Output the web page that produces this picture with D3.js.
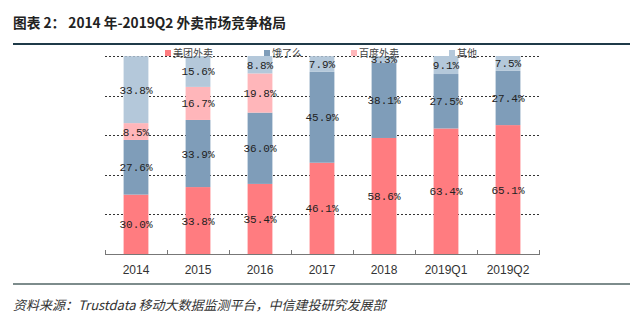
<!DOCTYPE html>
<html>
<head>
<meta charset="utf-8">
<script src="https://cdn.jsdelivr.net/npm/d3@7/dist/d3.min.js"></script>
<style>
  body { margin: 0; background: #fff; }
  svg { display: block; }
</style>
</head>
<body>
<div id="chart"></div>
<script>
// categories and shares (%), bottom to top of each stack
const periods = ['2014', '2015', '2016', '2017', '2018', '2019Q1', '2019Q2'];
const seriesNames = ['美团外卖', '饿了么', '百度外卖', '其他'];
const meituan = [30.0, 33.8, 35.4, 46.1, 58.6, 63.4, 65.1];
const eleme = [27.6, 33.9, 36.0, 45.9, 38.1, 27.5, 27.4];
const baidu = [8.5, 16.7, 19.8, 0, 0, 0, 0];
const others = [33.8, 15.6, 8.8, 7.9, 3.3, 9.1, 7.5];
const yTicks = [0, 20, 40, 60, 80, 100];

const colors = ['#ff7c80', '#7f9db9', '#ffb6ba', '#b4c8da'];
const width = 640, height = 323;
const plot = { left: 105, right: 539, top: 56, bottom: 254 };

const rows = periods.map((p, i) => ({
  period: p,
  '美团外卖': meituan[i],
  '饿了么': eleme[i],
  '百度外卖': baidu[i],
  '其他': others[i]
}));

const svg = d3.select('#chart').append('svg')
  .attr('width', width)
  .attr('height', height);

// title and rules
svg.append('text')
  .attr('x', 13).attr('y', 28)
  .style('font-family', '"Noto Sans CJK SC", sans-serif')
  .style('font-size', '13.7px')
  .style('font-weight', 'bold')
  .style('fill', '#222')
  .text('图表 2：  2014 年-2019Q2 外卖市场竞争格局');

svg.append('line')
  .attr('x1', 13).attr('x2', 630).attr('y1', 44).attr('y2', 44)
  .style('stroke', '#1f3a48').style('stroke-width', 2);

svg.append('line')
  .attr('x1', 13).attr('x2', 630).attr('y1', 284).attr('y2', 284)
  .style('stroke', '#7d8c8c').style('stroke-width', 2);

svg.append('text')
  .attr('x', 13).attr('y', 310)
  .style('font-family', '"Noto Sans CJK SC", sans-serif')
  .style('font-size', '13px')
  .style('font-style', 'italic')
  .style('fill', '#333')
  .text('资料来源：Trustdata 移动大数据监测平台，中信建投研究发展部');

// scales
const x = d3.scaleBand()
  .domain(periods)
  .range([plot.left, plot.right])
  .paddingInner(0.6)
  .paddingOuter(0.3);

const y = d3.scaleLinear()
  .domain([0, 100])
  .range([plot.bottom, plot.top]);

// dashed gridlines
svg.append('g')
  .selectAll('line')
  .data(yTicks.filter(t => t > 0))
  .enter()
  .append('line')
  .attr('x1', plot.left).attr('x2', plot.right)
  .attr('y1', d => Math.round(y(d)) + 0.5)
  .attr('y2', d => Math.round(y(d)) + 0.5)
  .style('stroke', '#333')
  .style('stroke-width', 1)
  .style('stroke-dasharray', '2,2');

// stacked bars
const stack = d3.stack().keys(seriesNames)(rows);

const layers = svg.append('g')
  .selectAll('g')
  .data(stack)
  .enter()
  .append('g')
  .style('fill', (d, i) => colors[i]);

layers.selectAll('rect')
  .data(d => d)
  .enter()
  .append('rect')
  .attr('x', d => x(d.data.period))
  .attr('y', d => y(d[1]))
  .attr('width', x.bandwidth())
  .attr('height', d => y(d[0]) - y(d[1]));

// value labels
stack.forEach(layer => {
  svg.append('g')
    .selectAll('text')
    .data(layer.filter(d => d[1] - d[0] > 0))
    .enter()
    .append('text')
    .attr('x', d => x(d.data.period) + x.bandwidth() / 2)
    .attr('y', d => y((d[0] + d[1]) / 2) + 4)
    .attr('text-anchor', 'middle')
    .style('font-family', '"Liberation Mono", monospace')
    .style('font-size', '11px')
    .style('fill', '#222')
    .text(d => (d[1] - d[0]).toFixed(1) + '%');
});

// x axis
const xAxis = svg.append('g')
  .attr('transform', `translate(0,${plot.bottom})`);

xAxis.append('line')
  .attr('x1', plot.left).attr('x2', plot.right)
  .attr('y1', 0.5).attr('y2', 0.5)
  .style('stroke', '#777');

const bounds = d3.range(periods.length + 1).map(i => plot.left + i * (plot.right - plot.left) / periods.length);
xAxis.selectAll('.tick-mark')
  .data(bounds)
  .enter()
  .append('line')
  .attr('x1', d => Math.round(d) + 0.5).attr('x2', d => Math.round(d) + 0.5)
  .attr('y1', -4).attr('y2', 1)
  .style('stroke', '#777');

xAxis.selectAll('.cat')
  .data(periods)
  .enter()
  .append('text')
  .attr('x', d => x(d) + x.bandwidth() / 2)
  .attr('y', 20)
  .attr('text-anchor', 'middle')
  .style('font-family', '"Liberation Sans", Arial, sans-serif')
  .style('font-size', '12px')
  .style('fill', '#333')
  .text(d => d);

// legend
const legendX = [165, 264, 351, 449];
const legend = svg.append('g')
  .selectAll('g')
  .data(seriesNames)
  .enter()
  .append('g')
  .attr('transform', (d, i) => `translate(${legendX[i]},50)`);

legend.append('rect')
  .attr('width', 6).attr('height', 6)
  .attr('y', 0)
  .style('fill', (d, i) => colors[i]);

legend.append('text')
  .attr('x', 8).attr('y', 7)
  .style('font-family', '"Noto Sans CJK SC", sans-serif')
  .style('font-size', '10px')
  .style('fill', '#444')
  .text(d => d);
</script>
</body>
</html>
